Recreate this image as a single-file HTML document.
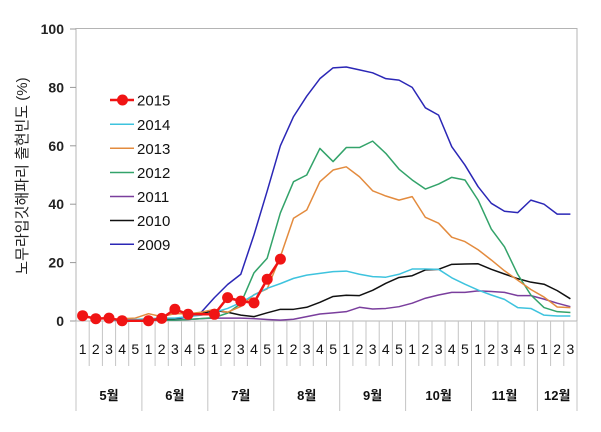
<!DOCTYPE html>
<html>
<head>
<meta charset="utf-8">
<style>
  html,body{margin:0;padding:0;background:#fff;}
  svg{display:block;}
  .yt{font-family:"Liberation Sans","Noto Sans CJK KR",sans-serif;font-size:14px;font-weight:bold;fill:#222;}
  .wk{font-family:"Liberation Sans","Noto Sans CJK KR",sans-serif;font-size:14px;fill:#111;}
  .mo{font-family:"Liberation Sans","Noto Sans CJK KR",sans-serif;font-size:13px;font-weight:bold;fill:#111;}
  .lg{font-family:"Liberation Sans","Noto Sans CJK KR",sans-serif;font-size:15px;fill:#111;}
  .tt{font-family:"Liberation Sans","Noto Sans CJK KR",sans-serif;font-size:15px;fill:#222;}
  .s{fill:none;stroke-width:1.5;stroke-linejoin:round;vector-effect:non-scaling-stroke;}
</style>
</head>
<body>
<svg width="601" height="432" viewBox="0 0 601 432" xmlns="http://www.w3.org/2000/svg">
  <rect width="601" height="432" fill="#fff"/>
  <!-- plot border -->
  <rect x="76" y="28.5" width="501" height="292.5" fill="none" stroke="#b4b4b4" stroke-width="1"/>
  <!-- y ticks -->
  <g stroke="#999" stroke-width="1">
    <line x1="70" y1="29" x2="76" y2="29"/>
    <line x1="70" y1="87.4" x2="76" y2="87.4"/>
    <line x1="70" y1="145.8" x2="76" y2="145.8"/>
    <line x1="70" y1="204.2" x2="76" y2="204.2"/>
    <line x1="70" y1="262.6" x2="76" y2="262.6"/>
    <line x1="70" y1="321" x2="76" y2="321"/>
  </g>
  <g class="yt" text-anchor="end">
    <text x="64" y="34">100</text>
    <text x="64" y="92.4">80</text>
    <text x="64" y="150.8">60</text>
    <text x="64" y="209.2">40</text>
    <text x="64" y="267.6">20</text>
    <text x="64" y="326">0</text>
  </g>
  <text class="tt" transform="translate(27,176) rotate(-90)" text-anchor="middle">노무라입깃해파리 출현빈도 (%)</text>

  <!-- category separators -->
  <g stroke="#c4c4c4" stroke-width="1">
    <line x1="76" y1="321" x2="76" y2="411"/>
    <line x1="89.2" y1="321" x2="89.2" y2="366"/>
    <line x1="102.4" y1="321" x2="102.4" y2="366"/>
    <line x1="115.6" y1="321" x2="115.6" y2="366"/>
    <line x1="128.7" y1="321" x2="128.7" y2="366"/>
    <line x1="141.9" y1="321" x2="141.9" y2="411"/>
    <line x1="155.1" y1="321" x2="155.1" y2="366"/>
    <line x1="168.3" y1="321" x2="168.3" y2="366"/>
    <line x1="181.5" y1="321" x2="181.5" y2="366"/>
    <line x1="194.7" y1="321" x2="194.7" y2="366"/>
    <line x1="207.8" y1="321" x2="207.8" y2="411"/>
    <line x1="221.0" y1="321" x2="221.0" y2="366"/>
    <line x1="234.2" y1="321" x2="234.2" y2="366"/>
    <line x1="247.4" y1="321" x2="247.4" y2="366"/>
    <line x1="260.6" y1="321" x2="260.6" y2="366"/>
    <line x1="273.8" y1="321" x2="273.8" y2="411"/>
    <line x1="286.9" y1="321" x2="286.9" y2="366"/>
    <line x1="300.1" y1="321" x2="300.1" y2="366"/>
    <line x1="313.3" y1="321" x2="313.3" y2="366"/>
    <line x1="326.5" y1="321" x2="326.5" y2="366"/>
    <line x1="339.7" y1="321" x2="339.7" y2="411"/>
    <line x1="352.9" y1="321" x2="352.9" y2="366"/>
    <line x1="366.0" y1="321" x2="366.0" y2="366"/>
    <line x1="379.2" y1="321" x2="379.2" y2="366"/>
    <line x1="392.4" y1="321" x2="392.4" y2="366"/>
    <line x1="405.6" y1="321" x2="405.6" y2="411"/>
    <line x1="418.8" y1="321" x2="418.8" y2="366"/>
    <line x1="432.0" y1="321" x2="432.0" y2="366"/>
    <line x1="445.1" y1="321" x2="445.1" y2="366"/>
    <line x1="458.3" y1="321" x2="458.3" y2="366"/>
    <line x1="471.5" y1="321" x2="471.5" y2="411"/>
    <line x1="484.7" y1="321" x2="484.7" y2="366"/>
    <line x1="497.9" y1="321" x2="497.9" y2="366"/>
    <line x1="511.1" y1="321" x2="511.1" y2="366"/>
    <line x1="524.2" y1="321" x2="524.2" y2="366"/>
    <line x1="537.4" y1="321" x2="537.4" y2="411"/>
    <line x1="550.6" y1="321" x2="550.6" y2="366"/>
    <line x1="563.8" y1="321" x2="563.8" y2="366"/>
    <line x1="577" y1="321" x2="577" y2="411"/>
  </g>
  <!-- week labels -->
  <g class="wk" text-anchor="middle">
    <text x="82.6" y="354">1</text><text x="95.8" y="354">2</text><text x="109.0" y="354">3</text><text x="122.1" y="354">4</text><text x="135.3" y="354">5</text>
    <text x="148.5" y="354">1</text><text x="161.7" y="354">2</text><text x="174.9" y="354">3</text><text x="188.1" y="354">4</text><text x="201.2" y="354">5</text>
    <text x="214.4" y="354">1</text><text x="227.6" y="354">2</text><text x="240.8" y="354">3</text><text x="254.0" y="354">4</text><text x="267.2" y="354">5</text>
    <text x="280.4" y="354">1</text><text x="293.5" y="354">2</text><text x="306.7" y="354">3</text><text x="319.9" y="354">4</text><text x="333.1" y="354">5</text>
    <text x="346.3" y="354">1</text><text x="359.5" y="354">2</text><text x="372.6" y="354">3</text><text x="385.8" y="354">4</text><text x="399.0" y="354">5</text>
    <text x="412.2" y="354">1</text><text x="425.4" y="354">2</text><text x="438.6" y="354">3</text><text x="451.8" y="354">4</text><text x="464.9" y="354">5</text>
    <text x="478.1" y="354">1</text><text x="491.3" y="354">2</text><text x="504.5" y="354">3</text><text x="517.7" y="354">4</text><text x="530.9" y="354">5</text>
    <text x="544.0" y="354">1</text><text x="557.2" y="354">2</text><text x="570.4" y="354">3</text>
  </g>
  <!-- month labels -->
  <g class="mo" text-anchor="middle">
    <text x="109.0" y="400">5월</text>
    <text x="174.9" y="400">6월</text>
    <text x="240.8" y="400">7월</text>
    <text x="306.7" y="400">8월</text>
    <text x="372.6" y="400">9월</text>
    <text x="438.6" y="400">10월</text>
    <text x="504.5" y="400">11월</text>
    <text x="557.2" y="400">12월</text>
  </g>

  <!-- series in data coordinates: x = category index, y = value -->
  <g transform="translate(82.59,321) scale(13.184,-2.92)">
    <polyline class="s" stroke="#2b27b6" points="2,0.3 3,0.3 4,0.3 5,0.3 6,0.3 7,0.5 8,1.5 9,3 10,8 11,12.5 12,16 13,29.5 14,44.5 15,60 16,70 17,77 18,83 19,86.7 20,87 21,86 22,85 23,83 24,82.5 25,80 26,73 27,70.5 28,59.7 29,53.4 30,46 31,40.3 32,37.6 33,37.1 34,41.4 35,40 36,36.6 37,36.6"/>
    <polyline class="s" stroke="#111111" points="2,0.3 3,0.3 4,0.3 5,0.5 6,0.5 7,0.8 8,1.5 9,2.5 10,3.6 11,3 12,2 13,1.5 14,2.8 15,4 16,4 17,4.7 18,6.4 19,8.4 20,8.8 21,8.7 22,10.5 23,12.9 24,14.9 25,15.5 26,17.5 27,17.7 28,19.4 29,19.5 30,19.6 31,17.7 32,16.1 33,14.5 34,13.3 35,12.6 36,10.4 37,7.6"/>
    <polyline class="s" stroke="#7a3e9d" points="2,0.2 3,0.2 4,0.2 5,0.2 6,0.2 7,0.3 8,0.5 9,0.8 10,1 11,1 12,1 13,0.8 14,0.5 15,0.3 16,0.6 17,1.5 18,2.4 19,2.8 20,3.2 21,4.7 22,4.1 23,4.3 24,4.9 25,6.1 26,7.8 27,8.9 28,9.8 29,9.8 30,10.3 31,10.1 32,9.8 33,8.7 34,8.7 35,7.5 36,6.1 37,4.9"/>
    <polyline class="s" stroke="#33a36a" points="2,0.3 3,0.3 4,0.3 5,0.3 6,0.3 7,0.3 8,0.5 9,0.8 10,1.2 11,2.7 12,6 13,16.5 14,21.5 15,37 16,47.7 17,50 18,59.1 19,54.6 20,59.4 21,59.4 22,61.6 23,57.4 24,52 25,48.3 26,45.2 27,46.9 28,49.2 29,48.3 30,41.4 31,31.5 32,25.4 33,16 34,8.9 35,4.6 36,3.2 37,2.9"/>
    <polyline class="s" stroke="#e38b3e" points="2,0.5 3,0.8 4,1 5,2.5 6,1.5 7,2.5 8,2.5 9,3 10,4 11,3 12,5 13,9 14,11 15,22 16,35.2 17,38 18,47.7 19,51.7 20,52.8 21,49.4 22,44.6 23,42.8 24,41.4 25,42.6 26,35.5 27,33.5 28,28.7 29,27.2 30,24.4 31,20.9 32,17.2 33,14 34,10.8 35,8.2 36,4.8 37,4.6"/>
    <polyline class="s" stroke="#3ec3de" points="2,0.3 3,0.3 4,0.5 5,0.8 6,1 7,1 8,1.5 9,2 10,3 11,4.3 12,6.3 13,8.9 14,11.2 15,12.8 16,14.6 17,15.7 18,16.3 19,16.9 20,17.1 21,16 22,15.2 23,15 24,16 25,17.8 26,17.8 27,17.7 28,14.8 29,12.6 30,10.6 31,8.9 32,7.4 33,4.6 34,4.3 35,2 36,1.7 37,1.7"/>
    <polyline class="s" stroke="#f01414" style="stroke-width:2.5" points="0,1.8 1,0.8 2,1 3,0.1 5,0.1 6,0.9 7,4 8,2.3 10,2.3 11,8 12,6.8 13,6.2 14,14.3 15,21.2"/>
  </g>
  <g fill="#f01414">
    <circle cx="82.6" cy="315.7" r="5.5"/>
    <circle cx="95.8" cy="318.7" r="5.5"/>
    <circle cx="109.0" cy="318.1" r="5.5"/>
    <circle cx="122.1" cy="320.7" r="5.5"/>
    <circle cx="148.5" cy="320.7" r="5.5"/>
    <circle cx="161.7" cy="318.4" r="5.5"/>
    <circle cx="174.9" cy="309.3" r="5.5"/>
    <circle cx="188.1" cy="314.3" r="5.5"/>
    <circle cx="214.4" cy="314.3" r="5.5"/>
    <circle cx="227.6" cy="297.6" r="5.5"/>
    <circle cx="240.8" cy="301.1" r="5.5"/>
    <circle cx="254.0" cy="302.9" r="5.5"/>
    <circle cx="267.2" cy="279.2" r="5.5"/>
    <circle cx="280.4" cy="259.1" r="5.5"/>
  </g>

  <!-- legend -->
  <g stroke-width="1.5">
    <line x1="110" y1="100" x2="134" y2="100" stroke="#f01414" stroke-width="2.5"/>
    <circle cx="122.5" cy="100" r="5.5" fill="#f01414" stroke="none"/>
    <line x1="110" y1="124.3" x2="134" y2="124.3" stroke="#3ec3de"/>
    <line x1="110" y1="148.3" x2="134" y2="148.3" stroke="#e38b3e"/>
    <line x1="110" y1="172.5" x2="134" y2="172.5" stroke="#33a36a"/>
    <line x1="110" y1="196.5" x2="134" y2="196.5" stroke="#7a3e9d"/>
    <line x1="110" y1="220.5" x2="134" y2="220.5" stroke="#111111"/>
    <line x1="110" y1="244.3" x2="134" y2="244.3" stroke="#2b27b6"/>
  </g>
  <g class="lg">
    <text x="137" y="105.5">2015</text>
    <text x="137" y="129.8">2014</text>
    <text x="137" y="153.8">2013</text>
    <text x="137" y="178">2012</text>
    <text x="137" y="202">2011</text>
    <text x="137" y="226">2010</text>
    <text x="137" y="249.8">2009</text>
  </g>
</svg>
</body>
</html>
